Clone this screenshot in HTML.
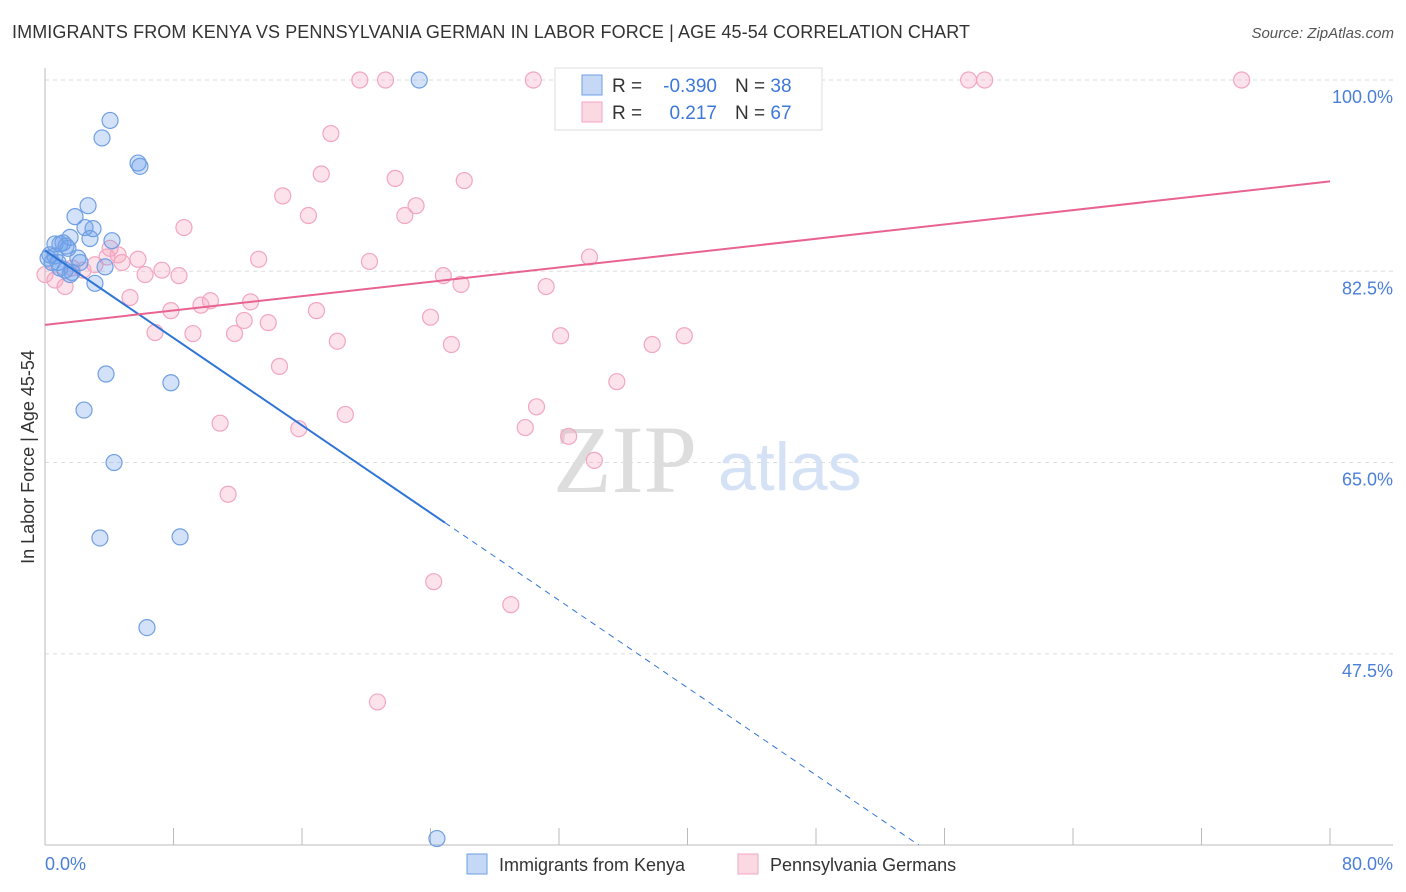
<!DOCTYPE html>
<html><head><meta charset="utf-8"><style>
body{margin:0;background:#fff;font-family:"Liberation Sans",sans-serif;}
#wrap{position:relative;width:1406px;height:892px;overflow:hidden;}
.t{position:absolute;white-space:nowrap;}
</style></head><body>
<div id="wrap">
<div class="t" style="left:12px;top:22px;font-size:18px;color:#333;letter-spacing:0.1px">IMMIGRANTS FROM KENYA VS PENNSYLVANIA GERMAN IN LABOR FORCE | AGE 45-54 CORRELATION CHART</div>
<div class="t" style="right:12px;top:25px;font-size:15px;color:#555;font-style:italic">Source: ZipAtlas.com</div>
<svg id="svg" width="1406" height="892" style="position:absolute;left:0;top:0"></svg>
</div>
<script>
const kenyaX=[4.05,3.55,5.79,5.91,2.68,1.87,2.49,2.99,1.56,2.80,4.17,0.62,0.93,1.12,1.43,0.31,0.62,2.05,0.44,0.93,1.68,1.25,3.74,3.11,3.80,7.84,2.43,4.30,3.42,8.41,6.35,23.3,24.4,0.19,0.81,2.18,1.56,1.31];
const kenyaY=[96.3,94.7,92.4,92.1,88.5,87.5,86.5,86.4,85.6,85.5,85.3,85.0,85.0,85.1,84.6,84.0,83.9,83.7,83.3,82.8,82.4,82.6,82.9,81.4,73.1,72.3,69.8,65.0,58.1,58.2,49.9,100,30.6,83.7,83.3,83.3,82.2,84.8];
const pennX=[19.6,21.2,30.4,46.8,57.5,58.5,74.5,47.0,17.8,17.2,21.8,26.1,14.8,16.4,23.1,22.4,8.65,13.3,20.2,33.9,5.79,4.79,3.86,4.05,7.28,6.23,8.34,24.8,25.9,31.2,1.25,0.62,5.29,10.3,9.71,12.8,7.84,16.9,12.4,13.9,24.0,6.85,9.21,11.8,18.2,25.3,32.1,37.8,39.8,14.6,35.6,30.6,18.7,10.9,15.8,29.9,32.6,34.2,11.4,24.2,29.0,20.7,0,3.11,2.37,1.68,4.55];
const pennY=[100,100,100,100,100,100,100,100,95.1,91.4,91.0,90.8,89.4,87.6,88.5,87.6,86.5,83.6,83.4,83.8,83.6,83.3,83.8,84.6,82.6,82.2,82.1,82.1,81.3,81.1,81.1,81.7,80.1,79.8,79.4,79.7,78.9,78.9,78.0,77.8,78.3,76.9,76.8,76.8,76.1,75.8,76.6,75.8,76.6,73.8,72.4,70.1,69.4,68.6,68.1,68.2,67.4,65.2,62.1,54.1,52.0,43.1,82.2,83.1,82.6,82.8,84.0];
const kenyaTrend=[84.4,-1.0]; // intercept, slope
const pennTrend=[77.6,0.164];
const yTicks=[100,82.5,65,47.5];
const xTickLabels=["0.0%","80.0%"];

const X=v=>45+v/80*1285;
const Y=v=>80+(100-v)*10.93;
const NS="http://www.w3.org/2000/svg";
const svg=document.getElementById('svg');
function mk(tag,attrs,parent){const e=document.createElementNS(NS,tag);for(const k in attrs)e.setAttribute(k,attrs[k]);(parent||svg).appendChild(e);return e;}

yTicks.forEach(v=>{
  const l=mk('line',{x1:45,x2:1393,y1:Y(v),y2:Y(v),stroke:'#ddd','stroke-dasharray':'4,4'});
  
  
  const t=mk('text',{x:1393,y:Y(v)+23,'text-anchor':'end','font-size':18,fill:'#4a7fd8','font-family':'Liberation Sans, sans-serif'});
  t.textContent=v.toFixed(1)+'%';
  
  
});
const ax=mk('line',{x1:45,x2:45,y1:68,y2:845,stroke:'#bbb'});


const bx=mk('line',{x1:45,x2:1393,y1:845,y2:845,stroke:'#bbb'});


for(let i=0;i<=10;i++){const tk=mk('line',{x1:X(i*8),x2:X(i*8),y1:828,y2:845,stroke:'#bbb'});

}
[[45,'start',0],[1393,'end',1]].forEach(([x,a,i])=>{const t=mk('text',{x:x,y:870,'text-anchor':a,'font-size':18,fill:'#4a7fd8','font-family':'Liberation Sans, sans-serif'});t.textContent=xTickLabels[i];

});
const yt=mk('text',{x:0,y:0,transform:'translate(34,457) rotate(-90)','text-anchor':'middle','font-size':18,fill:'#333','font-family':'Liberation Sans, sans-serif'});
yt.textContent='In Labor Force | Age 45-54';


// watermark
const wm=mk('text',{x:553,y:492,'font-size':96,fill:'#ddd','font-family':'Liberation Serif, serif'});wm.textContent='ZIP';


const wm2=mk('text',{x:718,y:490,'font-size':68,fill:'#d5e2f5','font-family':'Liberation Sans, sans-serif'});wm2.textContent='atlas';



pennX.forEach((x,i)=>{const c=mk('circle',{cx:X(x),cy:Y(pennY[i]),r:8,fill:'rgba(244,160,186,0.3)',stroke:'#f2a6c0','stroke-width':1.2});

});
kenyaX.forEach((x,i)=>{const c=mk('circle',{cx:X(x),cy:Y(kenyaY[i]),r:8,fill:'rgba(110,160,235,0.3)',stroke:'#6f9fe3','stroke-width':1.2});

});

const kEnd=(30-kenyaTrend[0])/kenyaTrend[1];
const k1=mk('line',{x1:X(0),y1:Y(kenyaTrend[0]),x2:X(24.9),y2:Y(kenyaTrend[0]+kenyaTrend[1]*24.9),stroke:'#2f74d8','stroke-width':2});


const k2=mk('line',{x1:X(24.9),y1:Y(kenyaTrend[0]+kenyaTrend[1]*24.9),x2:X(kEnd),y2:Y(30),stroke:'#2f74d8','stroke-width':1,'stroke-dasharray':'6,5'});


const p1=mk('line',{x1:X(0),y1:Y(pennTrend[0]),x2:X(80),y2:Y(pennTrend[0]+pennTrend[1]*80),stroke:'#e8638f','stroke-width':2});



// legend box
const lg=mk('rect',{x:555,y:68,width:267,height:62,fill:'#fff',stroke:'#ddd'});


[[85,'rgba(110,160,235,0.4)','#6f9fe3','-0.390','38'],[112,'rgba(244,160,186,0.4)','#f2a6c0','0.217','67']].forEach(([y,f,s,r,n])=>{
  const sw=mk('rect',{x:582,y:y-10,width:20,height:20,fill:f,stroke:s});
  
  
  const t=mk('text',{x:612,y:y+7,'font-size':19,fill:'#333','font-family':'Liberation Sans, sans-serif'});
  t.innerHTML='R = <tspan fill="#3d78d8" x="717" text-anchor="end">'+r+'</tspan><tspan x="735">N = </tspan><tspan fill="#3d78d8">'+n+'</tspan>';
  
  
});
// bottom legend
[[467,'rgba(110,160,235,0.4)','#6f9fe3','Immigrants from Kenya'],[738,'rgba(244,160,186,0.4)','#f2a6c0','Pennsylvania Germans']].forEach(([x,f,s,l])=>{
  const sw=mk('rect',{x:x,y:854,width:20,height:20,fill:f,stroke:s});
  
  
  const t=mk('text',{x:x+32,y:871,'font-size':18,fill:'#333','font-family':'Liberation Sans, sans-serif'});t.textContent=l;
  
  
});
</script>
</body></html>
